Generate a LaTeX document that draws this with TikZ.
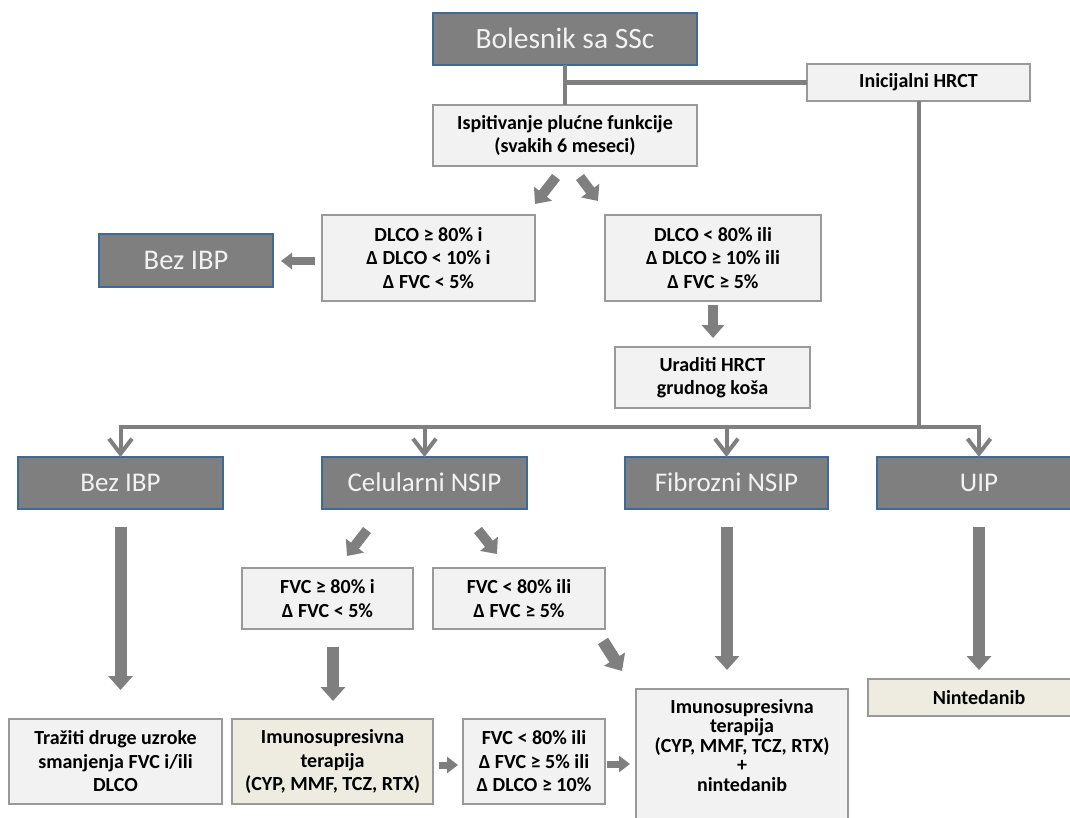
\documentclass[tikz,border=0pt]{standalone}
\usepackage{fontspec}
\setmainfont{Carlito}
\usetikzlibrary{arrows.meta}
\definecolor{ln}{HTML}{7F7F7F}
\definecolor{dk}{HTML}{7F7F7F}
\definecolor{dkb}{HTML}{3E6A98}
\definecolor{lt}{HTML}{F2F2F2}
\definecolor{ltb}{HTML}{999999}
\definecolor{bg}{HTML}{EEECE1}
\begin{document}
\begin{tikzpicture}[x=1pt,y=-1pt,
  dbox/.style={draw=dkb, line width=2.5pt, fill=dk, text=lt, inner sep=0pt, outer sep=0pt, align=center, font=\fontsize{27}{32}\selectfont, text height=20pt, text depth=2.6pt},
  lbox/.style={draw=ltb, line width=1.4pt, fill=lt, text=black, inner sep=0pt, outer sep=0pt, align=center, font=\bfseries\fontsize{20}{23.5}\selectfont},
  bbox/.style={lbox, fill=bg},
  btext/.style={text=black, inner sep=0pt, align=center, font=\bfseries\fontsize{20}{19.5}\selectfont},
  conn/.style={draw=ln, line width=4.7pt},
  connb/.style={draw=ln, line width=4pt},
  vconn/.style={draw=ln, line width=4pt, -{Straight Barb[width=23pt,length=15pt,line width=4pt]}},
  fatl/.style={color=ln, line width=12pt, -{Triangle[width=24pt,length=14pt]}},
  fatm/.style={color=ln, line width=10pt, -{Triangle[width=22pt,length=13pt]}},
  fats/.style={color=ln, line width=7pt, -{Triangle[width=16pt,length=11pt]}}
]
\useasboundingbox (0,0) rectangle (1070,818);
\fill[white] (0,0) rectangle (1070,818);

% top
\node[dbox, minimum width=264pt, minimum height=52pt, font=\fontsize{29.5}{35}\selectfont, text height=22pt, text depth=3pt] (bol) at (565,39) {Bolesnik sa SSc};
\node[lbox, minimum width=223pt, minimum height=37pt] (ini) at (918.5,82.5) {Inicijalni HRCT};
\node[lbox, minimum width=264pt, minimum height=61pt] (isp) at (565,135.5) {Ispitivanje plućne funkcije\\(svakih 6 meseci)};
\draw[conn] (bol.south) -- (isp.north);
\draw[conn] (bol.south |- ini.west) -- (ini.west);

% second level
\node[lbox, minimum width=213pt, minimum height=86pt] (d1) at (428.5,258) {DLCO ≥ 80\% i\\Δ DLCO < 10\% i\\Δ FVC < 5\%};
\node[lbox, minimum width=216pt, minimum height=86pt] (d2) at (713,258) {DLCO < 80\% ili\\Δ DLCO ≥ 10\% ili\\Δ FVC ≥ 5\%};
\node[dbox, minimum width=174pt, minimum height=53pt, font=\fontsize{28.5}{34}\selectfont, text height=21pt, text depth=2.6pt] (bez1) at (186,260.5) {Bez IBP};
\node[lbox, minimum width=195pt, minimum height=61pt] (ura) at (712.5,377.5) {Uraditi HRCT\\grudnog koša};

\coordinate (a1s) at (556,177); \coordinate (a1e) at (535,204);
\coordinate (a2s) at (580,177); \coordinate (a2e) at (598,201);
\draw[fatm] (a1s) -- (a1e);
\draw[fatm] (a2s) -- (a2e);
\coordinate (a3s) at (315,261); \coordinate (a3e) at (281,261);
\draw[fats] (a3s) -- (a3e);
\coordinate (a4s) at (713,305); \coordinate (a4e) at (713,338);
\draw[fatm] (a4s) -- (a4e);

% third level
\node[dbox, minimum width=205pt, minimum height=52pt] (bez2) at (120.5,483) {Bez IBP};
\node[dbox, minimum width=205pt, minimum height=52pt] (cel) at (424.5,483) {Celularni NSIP};
\node[dbox, minimum width=203pt, minimum height=52pt] (fib) at (726.5,483) {Fibrozni NSIP};
\node[dbox, minimum width=204pt, minimum height=52pt] (uip) at (979,483) {UIP};

\coordinate (hl) at (120.5,427);
\coordinate (hr) at (979,427);
\draw[connb] (ini.south) -- (ini.south |- hl);
\draw[connb, line cap=rect] (hl) -- (hr);
\draw[vconn] (hl) -- (bez2.north);
\draw[vconn] (cel.north |- hl) -- (cel.north);
\draw[vconn] (fib.north |- hl) -- (fib.north);
\draw[vconn] (hr) -- (uip.north);

% fourth level
\node[lbox, minimum width=171pt, minimum height=61pt] (f1) at (327.5,598.5) {FVC ≥ 80\% i\\Δ FVC < 5\%};
\node[lbox, minimum width=172pt, minimum height=61pt] (f2) at (519,598.5) {FVC < 80\% ili\\Δ FVC ≥ 5\%};

\coordinate (b1s) at (367,530); \coordinate (b1e) at (347,556);
\coordinate (b2s) at (478,530); \coordinate (b2e) at (497,554);
\draw[fatm] (b1s) -- (b1e);
\draw[fatm] (b2s) -- (b2e);

\coordinate (c1s) at (120.5,527); \coordinate (c1e) at (120.5,690);
\coordinate (c2s) at (727,527); \coordinate (c2e) at (727,670);
\coordinate (c3s) at (979,527); \coordinate (c3e) at (979,670);
\coordinate (c4s) at (333,647); \coordinate (c4e) at (333,701);
\coordinate (c5s) at (603,641); \coordinate (c5e) at (622,671);
\draw[fatl] (c1s) -- (c1e);
\draw[fatl] (c2s) -- (c2e);
\draw[fatl] (c3s) -- (c3e);
\draw[fatl] (c4s) -- (c4e);
\draw[fatl] (c5s) -- (c5e);

% bottom
\node[lbox, minimum width=213pt, minimum height=85pt] (tra) at (115.5,761.5) {Tražiti druge uzroke\\smanjenja FVC i/ili\\DLCO};
\node[bbox, minimum width=201pt, minimum height=85pt] (imu1) at (332.5,761.5) {Imunosupresivna\\terapija\\(CYP, MMF, TCZ, RTX)};
\node[lbox, minimum width=142pt, minimum height=85pt] (f3) at (534,761.5) {FVC < 80\% ili\\Δ FVC ≥ 5\% ili\\Δ DLCO ≥ 10\%};
\node[lbox, minimum width=212pt, minimum height=136pt, anchor=north] (big) at (742,689) {};
\node[btext, anchor=north] (bigt) at (742,699) {Imunosupresivna\\terapija\\(CYP, MMF, TCZ, RTX)\\+\\nintedanib};
\node[bbox, minimum width=222pt, minimum height=37pt] (nin) at (979,697.5) {Nintedanib};

\coordinate (e1s) at (439,765); \coordinate (e1e) at (458,765);
\coordinate (e2s) at (607,764); \coordinate (e2e) at (630,764);
\draw[fats] (e1s) -- (e1e);
\draw[fats] (e2s) -- (e2e);
\end{tikzpicture}
\end{document}
